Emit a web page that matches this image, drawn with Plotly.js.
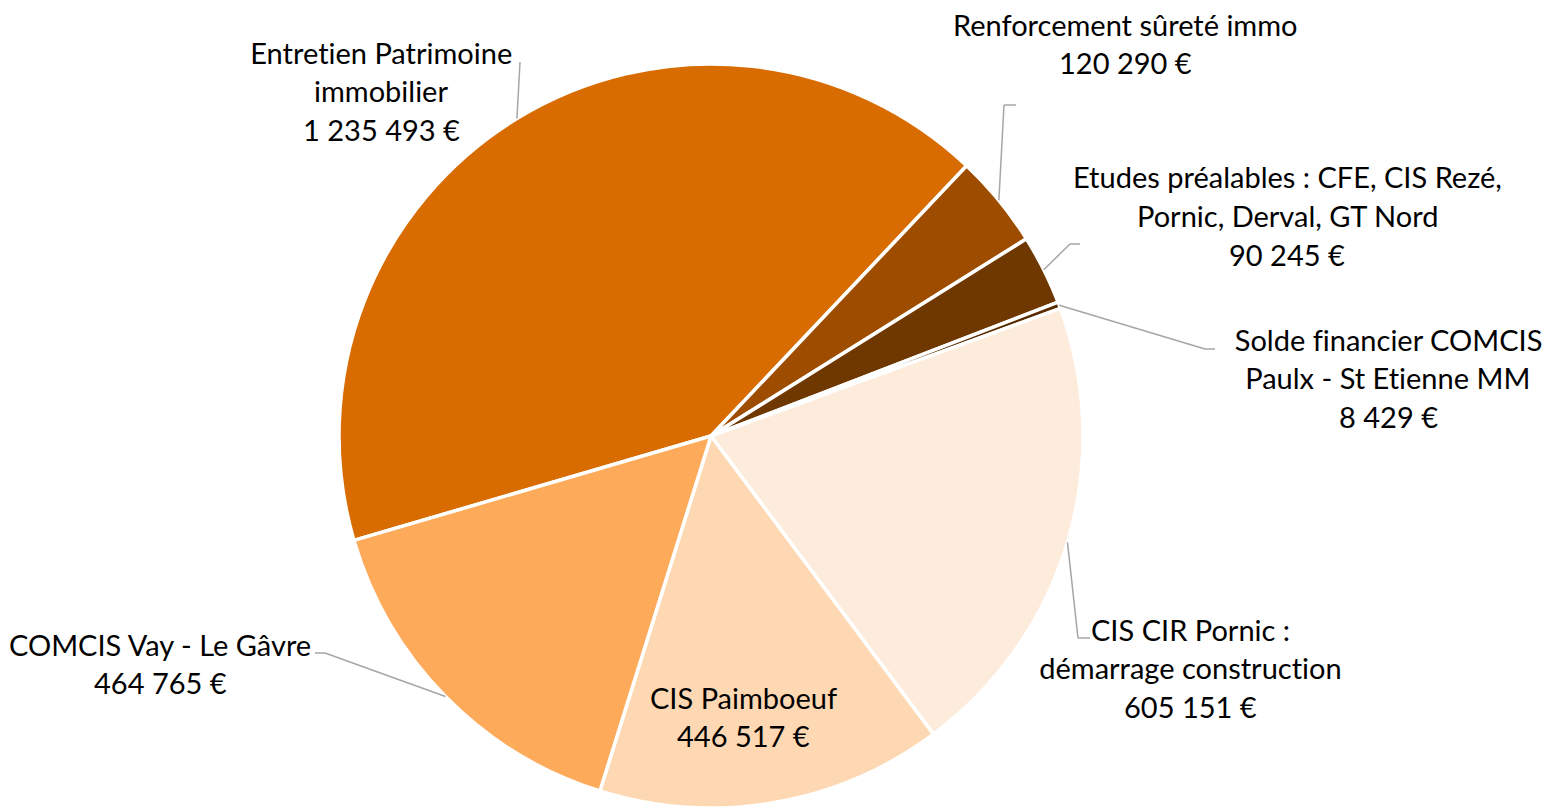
<!DOCTYPE html>
<html><head><meta charset="utf-8">
<script src="https://cdn.plot.ly/plotly-3.0.1.min.js"></script>
<style>html,body{margin:0;padding:0;background:#fff;} #chart{width:1546px;height:808px;}
#chart text{font-variant-ligatures:none;font-feature-settings:"liga" 0, "clig" 0;}</style>
</head><body><div id="chart"></div>
<script>
const categories = ["Entretien Patrimoine<br>immobilier", "Renforcement sûreté immo", "Etudes préalables : CFE, CIS Rezé,<br>Pornic, Derval, GT Nord", "Solde financier COMCIS<br>Paulx - St Etienne MM", "CIS CIR Pornic :<br>démarrage construction", "CIS Paimboeuf", "COMCIS Vay - Le Gâvre"];
const amounts = [1235493, 120290, 90245, 8429, 605151, 446517, 464765];
const sliceColors = ["#D86C00", "#9E4D00", "#6F3800", "#5A2C00", "#FDEBDB", "#FDD8B2", "#FDAA5B"];

// layout (pixels)
const W = 1546, H = 808, CX = 711, CY = 436, R = 372;
const START_DEG = 253.7;
const labelPos = [[381, 52], [1125, 24], [1287, 177], [1388, 339], [1190, 629], [743, 697], [160, 644]];
const elbows = [[[520, 62]], [[1004, 105], [1016, 105]], [[1070, 244], [1080, 244]], [[1205, 349], [1215, 349]], [[1078, 638], [1090, 638]], null, [[325, 653], [315, 653]]];
const LINE_H = 38.5;

function fmt(v) { return String(v).replace(/\B(?=(\d{3})+(?!\d))/g, ' ') + ' €'; }
const px = x => x / W, py = y => 1 - y / H;

const total = amounts.reduce((a, b) => a + b, 0);
const annotations = [];
const shapes = [];
let acc = 0;
amounts.forEach((v, i) => {
  const mid = (START_DEG + (acc + v / 2) / total * 360) * Math.PI / 180;
  acc += v;
  const lines = categories[i].split('<br>').concat([fmt(v)]);
  lines.forEach((t, k) => {
    annotations.push({xref: 'paper', yref: 'paper', x: px(labelPos[i][0]), y: py(labelPos[i][1] + k * LINE_H),
      xanchor: 'center', yanchor: 'middle', showarrow: false, text: t,
      font: {family: 'Lato, Carlito, sans-serif', size: 29, color: '#000'}});
  });
  if (elbows[i]) {
    let prev = [CX + R * Math.sin(mid), CY - R * Math.cos(mid)];
    elbows[i].forEach(p => {
      shapes.push({type: 'line', xref: 'paper', yref: 'paper', x0: px(prev[0]), y0: py(prev[1]), x1: px(p[0]), y1: py(p[1]),
        line: {color: '#A6A6A6', width: 1.5}});
      prev = p;
    });
  }
});

const trace = {
  type: 'pie', values: amounts, labels: categories, sort: false, direction: 'clockwise',
  rotation: START_DEG - 360, textinfo: 'none', hoverinfo: 'none',
  marker: {colors: sliceColors, line: {color: '#FFFFFF', width: 3.5}},
  domain: {x: [(CX - R) / W, (CX + R) / W], y: [(H - CY - R) / H, (H - CY + R) / H]}
};
const layout = {width: W, height: H, margin: {l: 0, r: 0, t: 0, b: 0}, showlegend: false,
  paper_bgcolor: '#fff', annotations, shapes};
Plotly.newPlot('chart', [trace], layout, {displayModeBar: false, staticPlot: true});
</script></body></html>
